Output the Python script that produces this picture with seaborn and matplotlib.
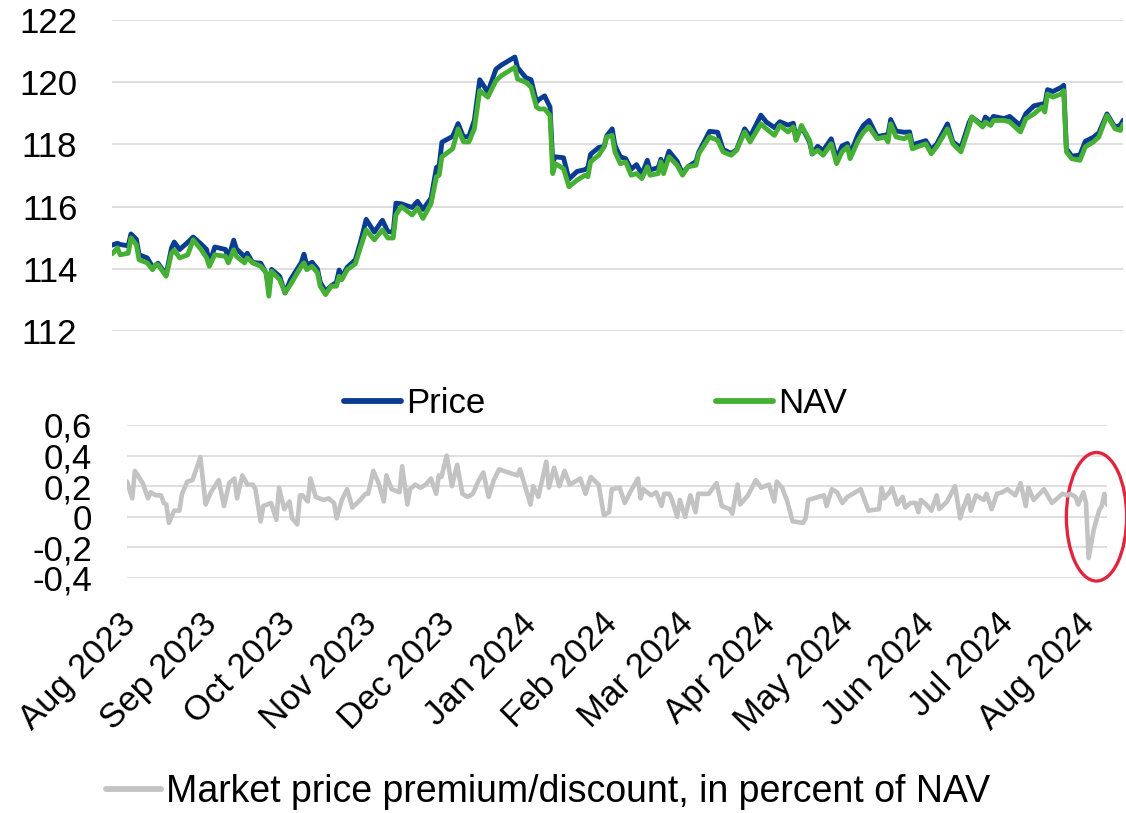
import matplotlib
matplotlib.use("Agg")
import matplotlib.pyplot as plt
import matplotlib.dates as mdates
import matplotlib.transforms as mtransforms
from matplotlib.patches import Ellipse
from matplotlib.lines import Line2D
import pandas as pd
import seaborn as sns

# Price / NAV (top panel)
nav_dates = [
    "2023-07-31", "2023-08-02", "2023-08-03", "2023-08-06", "2023-08-07", "2023-08-09", "2023-08-10",
    "2023-08-13", "2023-08-15", "2023-08-16", "2023-08-17", "2023-08-20", "2023-08-22", "2023-08-23",
    "2023-08-25", "2023-08-28", "2023-08-30", "2023-09-02", "2023-09-04", "2023-09-05", "2023-09-07",
    "2023-09-11", "2023-09-12", "2023-09-14", "2023-09-15", "2023-09-18", "2023-09-19", "2023-09-21",
    "2023-09-24", "2023-09-26", "2023-09-27", "2023-09-28", "2023-10-01", "2023-10-03", "2023-10-05",
    "2023-10-09", "2023-10-10", "2023-10-11", "2023-10-13", "2023-10-15", "2023-10-16", "2023-10-18",
    "2023-10-20", "2023-10-22", "2023-10-23", "2023-10-24", "2023-10-26", "2023-10-29", "2023-10-31",
    "2023-11-02", "2023-11-05", "2023-11-08", "2023-11-10", "2023-11-12", "2023-11-13", "2023-11-15",
    "2023-11-19", "2023-11-21", "2023-11-23", "2023-11-26", "2023-11-28", "2023-11-29", "2023-11-30",
    "2023-12-04", "2023-12-06", "2023-12-08", "2023-12-10", "2023-12-12", "2023-12-14", "2023-12-17",
    "2023-12-20", "2023-12-22", "2023-12-27", "2023-12-28", "2023-12-31", "2024-01-02", "2024-01-04",
    "2024-01-05", "2024-01-07", "2024-01-09", "2024-01-10", "2024-01-11", "2024-01-14", "2024-01-16",
    "2024-01-19", "2024-01-22", "2024-01-23", "2024-01-24", "2024-01-27", "2024-01-29", "2024-01-30",
    "2024-02-01", "2024-02-02", "2024-02-04", "2024-02-06", "2024-02-08", "2024-02-10", "2024-02-12",
    "2024-02-14", "2024-02-15", "2024-02-18", "2024-02-19", "2024-02-20", "2024-02-22", "2024-02-25",
    "2024-02-27", "2024-02-29", "2024-03-03", "2024-03-04", "2024-03-08", "2024-03-11", "2024-03-13",
    "2024-03-16", "2024-03-18", "2024-03-21", "2024-03-23", "2024-03-27", "2024-03-29", "2024-04-01",
    "2024-04-03", "2024-04-06", "2024-04-08", "2024-04-09", "2024-04-11", "2024-04-14", "2024-04-15",
    "2024-04-17", "2024-04-19", "2024-04-22", "2024-04-24", "2024-04-26", "2024-04-28", "2024-04-29",
    "2024-05-02", "2024-05-04", "2024-05-06", "2024-05-09", "2024-05-12", "2024-05-13", "2024-05-14",
    "2024-05-16", "2024-05-19", "2024-05-21", "2024-05-22", "2024-05-27", "2024-05-29", "2024-05-31",
    "2024-06-04", "2024-06-06", "2024-06-09", "2024-06-12", "2024-06-13", "2024-06-17", "2024-06-18",
    "2024-06-20", "2024-06-21", "2024-06-25", "2024-06-27", "2024-06-29", "2024-07-01", "2024-07-03",
    "2024-07-06", "2024-07-09", "2024-07-10", "2024-07-11", "2024-07-13", "2024-07-16", "2024-07-17",
    "2024-07-18", "2024-07-20", "2024-07-23", "2024-07-25", "2024-07-28", "2024-07-30", "2024-08-02",
    "2024-08-05", "2024-08-07", "2024-08-08",
]
nav = [
    114.48, 114.67, 114.45, 114.50, 114.99, 114.77, 114.29,
    114.19, 113.97, 114.13, 114.13, 113.76, 114.50, 114.60,
    114.35, 114.45, 114.93, 114.61, 114.35, 114.08, 114.45,
    114.40, 114.19, 114.61, 114.40, 114.19, 114.35, 114.19,
    114.08, 113.87, 113.12, 113.92, 113.65, 113.23, 113.49,
    114.08, 114.19, 113.97, 114.08, 113.87, 113.44, 113.17,
    113.44, 113.44, 113.76, 113.65, 113.97, 114.16, 114.72,
    115.25, 114.93, 115.25, 114.99, 114.99, 115.73, 116.00,
    115.73, 115.95, 115.62, 116.10, 116.96, 117.01, 117.60,
    117.86, 118.50, 118.08, 118.08, 118.50, 119.73, 119.52,
    120.05, 120.21, 120.48, 120.10, 120.00, 119.84, 119.20,
    119.14, 119.14, 118.93, 117.06, 117.38, 117.22, 116.64,
    116.85, 117.01, 116.96, 117.44, 117.65, 117.92, 118.24,
    118.29, 117.76, 117.38, 117.43, 117.01, 117.06, 116.90,
    117.28, 117.01, 117.06, 117.44, 117.06, 117.60, 117.33,
    117.01, 117.28, 117.33, 117.70, 118.24, 118.13, 117.76,
    117.65, 117.81, 118.40, 118.08, 118.66, 118.50, 118.29,
    118.61, 118.40, 118.56, 118.13, 118.61, 118.13, 117.70,
    117.81, 117.65, 118.02, 117.38, 117.76, 117.92, 117.54,
    118.13, 118.40, 118.56, 118.18, 118.24, 118.08, 118.66,
    118.24, 118.18, 118.29, 117.86, 118.02, 117.70, 117.92,
    118.50, 118.02, 117.76, 118.56, 118.88, 118.56, 118.72,
    118.61, 118.77, 118.77, 118.72, 118.56, 118.40, 118.82,
    118.98, 119.20, 119.04, 119.62, 119.52, 119.62, 119.73,
    117.76, 117.54, 117.49, 117.92, 118.08, 118.24, 118.93,
    118.50, 118.45, 118.65,
]
price = [
    114.76, 114.82, 114.78, 114.74, 115.12, 114.95, 114.45,
    114.35, 114.06, 114.09, 114.18, 113.81, 114.67, 114.86,
    114.62, 114.85, 115.02, 114.79, 114.62, 114.17, 114.70,
    114.62, 114.33, 114.92, 114.64, 114.39, 114.50, 114.20,
    114.18, 113.86, 113.33, 113.98, 113.76, 113.22, 113.65,
    114.20, 114.47, 114.12, 114.21, 113.99, 113.57, 113.27,
    113.45, 113.56, 113.96, 113.73, 114.05, 114.29, 114.89,
    115.59, 115.18, 115.56, 115.20, 115.17, 116.11, 116.09,
    115.97, 116.17, 115.91, 116.27, 117.26, 117.31, 118.07,
    118.26, 118.67, 118.23, 118.26, 118.77, 120.08, 119.68,
    120.42, 120.55, 120.81, 120.47, 120.15, 120.08, 119.36,
    119.45, 119.56, 119.20, 117.44, 117.60, 117.57, 116.88,
    117.13, 117.19, 117.26, 117.68, 117.90, 117.93, 118.28,
    118.50, 117.97, 117.60, 117.54, 117.20, 117.35, 117.04,
    117.49, 117.18, 117.25, 117.52, 117.24, 117.78, 117.46,
    117.06, 117.28, 117.45, 117.75, 118.42, 118.39, 117.84,
    117.71, 117.83, 118.50, 118.25, 118.94, 118.72, 118.54,
    118.73, 118.62, 118.68, 118.18, 118.57, 118.08, 117.69,
    117.94, 117.80, 118.18, 117.55, 117.95, 118.03, 117.69,
    118.33, 118.62, 118.77, 118.25, 118.30, 118.30, 118.80,
    118.43, 118.39, 118.40, 117.99, 118.12, 117.83, 118.01,
    118.66, 118.08, 117.89, 118.70, 118.88, 118.61, 118.88,
    118.74, 118.90, 118.83, 118.90, 118.75, 118.61, 118.99,
    119.24, 119.30, 119.26, 119.76, 119.70, 119.83, 119.90,
    117.86, 117.62, 117.66, 118.10, 118.23, 118.37, 118.98,
    118.55, 118.62, 118.78,
]

# Market price premium/discount in percent of NAV (bottom panel)
prem_dates = [
    "2023-07-31", "2023-08-02", "2023-08-03", "2023-08-06", "2023-08-08", "2023-08-09", "2023-08-11",
    "2023-08-13", "2023-08-14", "2023-08-15", "2023-08-16", "2023-08-18", "2023-08-20", "2023-08-21",
    "2023-08-23", "2023-08-25", "2023-08-28", "2023-08-30", "2023-09-01", "2023-09-04", "2023-09-06",
    "2023-09-08", "2023-09-10", "2023-09-11", "2023-09-13", "2023-09-15", "2023-09-17", "2023-09-18",
    "2023-09-20", "2023-09-21", "2023-09-24", "2023-09-26", "2023-09-27", "2023-09-29", "2023-10-01",
    "2023-10-02", "2023-10-04", "2023-10-05", "2023-10-06", "2023-10-08", "2023-10-09", "2023-10-11",
    "2023-10-14", "2023-10-16", "2023-10-18", "2023-10-19", "2023-10-21", "2023-10-23", "2023-10-25",
    "2023-10-28", "2023-10-30", "2023-10-31", "2023-11-02", "2023-11-04", "2023-11-06", "2023-11-07",
    "2023-11-09", "2023-11-12", "2023-11-13", "2023-11-15", "2023-11-16", "2023-11-18", "2023-11-20",
    "2023-11-22", "2023-11-24", "2023-11-26", "2023-11-27", "2023-11-28", "2023-11-30", "2023-12-02",
    "2023-12-04", "2023-12-06", "2023-12-08", "2023-12-10", "2023-12-12", "2023-12-14", "2023-12-16",
    "2023-12-18", "2023-12-20", "2023-12-27", "2023-12-28", "2024-01-01", "2024-01-02", "2024-01-04",
    "2024-01-07", "2024-01-08", "2024-01-10", "2024-01-12", "2024-01-14", "2024-01-16", "2024-01-20",
    "2024-01-22", "2024-01-24", "2024-01-27", "2024-01-29", "2024-01-31", "2024-02-01", "2024-02-04",
    "2024-02-06", "2024-02-08", "2024-02-11", "2024-02-12", "2024-02-13", "2024-02-16", "2024-02-18",
    "2024-02-20", "2024-02-21", "2024-02-23", "2024-02-24", "2024-02-26", "2024-02-27", "2024-02-29",
    "2024-03-02", "2024-03-04", "2024-03-05", "2024-03-09", "2024-03-12", "2024-03-14", "2024-03-17",
    "2024-03-18", "2024-03-20", "2024-03-21", "2024-03-24", "2024-03-27", "2024-03-29", "2024-04-01",
    "2024-04-03", "2024-04-04", "2024-04-06", "2024-04-08", "2024-04-10", "2024-04-14", "2024-04-15",
    "2024-04-16", "2024-04-20", "2024-04-22", "2024-04-23", "2024-04-25", "2024-04-27", "2024-04-29",
    "2024-05-01", "2024-05-06", "2024-05-09", "2024-05-13", "2024-05-14", "2024-05-15", "2024-05-17",
    "2024-05-18", "2024-05-20", "2024-05-22", "2024-05-23", "2024-05-25", "2024-05-27", "2024-05-28",
    "2024-05-29", "2024-05-31", "2024-06-02", "2024-06-04", "2024-06-05", "2024-06-08", "2024-06-11",
    "2024-06-13", "2024-06-14", "2024-06-16", "2024-06-17", "2024-06-19", "2024-06-22", "2024-06-23",
    "2024-06-25", "2024-06-27", "2024-06-29", "2024-07-01", "2024-07-04", "2024-07-06", "2024-07-08",
    "2024-07-09", "2024-07-11", "2024-07-15", "2024-07-18", "2024-07-22", "2024-07-24", "2024-07-25",
    "2024-07-27", "2024-07-28", "2024-07-30", "2024-07-31", "2024-08-01", "2024-08-03", "2024-08-05",
    "2024-08-06", "2024-08-07", "2024-08-08",
]
premium = [
    0.23, 0.12, 0.30, 0.22, 0.12, 0.16, 0.14,
    0.14, 0.09, 0.08, -0.04, 0.04, 0.04, 0.15,
    0.23, 0.24, 0.39, 0.08, 0.16, 0.24, 0.07,
    0.22, 0.25, 0.12, 0.27, 0.21, 0.21, 0.18,
    -0.03, 0.07, 0.09, -0.02, 0.19, 0.05, 0.10,
    -0.01, -0.05, 0.14, 0.14, 0.10, 0.25, 0.13,
    0.11, 0.12, 0.09, -0.01, 0.11, 0.18, 0.06,
    0.11, 0.15, 0.15, 0.30, 0.22, 0.10, 0.27,
    0.18, 0.16, 0.33, 0.08, 0.18, 0.21, 0.19,
    0.21, 0.25, 0.15, 0.27, 0.26, 0.40, 0.20,
    0.34, 0.15, 0.13, 0.15, 0.23, 0.29, 0.13,
    0.24, 0.31, 0.27, 0.31, 0.08, 0.20, 0.13,
    0.36, 0.19, 0.32, 0.20, 0.30, 0.21, 0.25,
    0.15, 0.26, 0.21, 0.01, 0.03, 0.18, 0.19,
    0.09, 0.16, 0.25, 0.12, 0.18, 0.14, 0.16,
    0.07, 0.15, 0.15, 0.11, 0.00, 0.11, 0.00,
    0.14, 0.03, 0.15, 0.15, 0.22, 0.07, 0.05,
    0.02, 0.21, 0.08, 0.14, 0.24, 0.19, 0.21,
    0.10, 0.23, 0.19, 0.10, -0.03, -0.04, -0.01,
    0.11, 0.13, 0.14, 0.07, 0.18, 0.16, 0.09,
    0.13, 0.18, 0.04, 0.05, 0.19, 0.12, 0.16,
    0.19, 0.08, 0.13, 0.06, 0.09, 0.09, 0.03,
    0.11, 0.08, 0.04, 0.14, 0.05, 0.10, 0.20,
    -0.01, 0.05, 0.14, 0.04, 0.14, 0.11, 0.15,
    0.05, 0.15, 0.16, 0.18, 0.14, 0.22, 0.07,
    0.19, 0.11, 0.18, 0.09, 0.15, 0.14, 0.15,
    0.13, 0.08, 0.16, 0.09, -0.27, -0.08, 0.04,
    0.07, 0.15, 0.08,
]

price_ticks = [112, 114, 116, 118, 120, 122]
prem_ticks = [-0.4, -0.2, 0, 0.2, 0.4, 0.6]
prem_tick_labels = ["-0,4", "-0,2", "0", "0,2", "0,4", "0,6"]
month_ticks = pd.date_range("2023-08-01", "2024-08-01", freq="MS")

BLUE = "#0A3D91"
GREEN = "#46B034"
GREY = "#C3C3C3"
GRID = "#D9D9D9"
RED = "#E0253F"
FS = 25

sns.set_style("white")
plt.rcParams["font.family"] = ["Liberation Sans", "DejaVu Sans"]
plt.rcParams.update({"text.color": "black", "xtick.color": "black",
                     "ytick.color": "black", "axes.labelcolor": "black"})

top = pd.DataFrame({"date": pd.to_datetime(nav_dates), "Price": price, "NAV": nav})
bot = pd.DataFrame({"date": pd.to_datetime(prem_dates), "premium": premium})

fig = plt.figure(figsize=(11.26, 8.13), dpi=100)
ax1 = fig.add_axes([0.0995, 0.5929, 0.898, 0.3825])
ax2 = fig.add_axes([0.1128, 0.2891, 0.8703, 0.1882])

sns.lineplot(data=top, x="date", y="Price", ax=ax1, color=BLUE, lw=3.5)
sns.lineplot(data=top, x="date", y="NAV", ax=ax1, color=GREEN, lw=3.5)
sns.lineplot(data=bot, x="date", y="premium", ax=ax2, color=GREY, lw=3.3)

for ax in (ax1, ax2):
    sns.despine(ax=ax, left=True, bottom=True)
    ax.grid(axis="y", color=GRID, lw=1.2)
    ax.set_axisbelow(True)
    ax.set_xlabel("")
    ax.set_ylabel("")
    ax.tick_params(length=0, labelsize=FS, colors="black")
    ax.tick_params(axis="y", pad=25)

ax1.set_xlim(top["date"].min(), top["date"].max())
ax1.set_ylim(112, 122)
ax1.set_yticks(price_ticks)
ax1.set_xticks([])

ax2.set_xlim(bot["date"].min(), bot["date"].max())
ax2.set_ylim(-0.4, 0.6)
ax2.set_yticks(prem_ticks)
ax2.set_yticklabels(prem_tick_labels)
ax2.set_xticks(month_ticks)
ax2.set_xticklabels([d.strftime("%b %Y") for d in month_ticks], rotation=45,
                    ha="right", va="top", rotation_mode="anchor")
ax2.tick_params(axis="x", pad=21)
shift = mtransforms.ScaledTranslation(-11 / 100, 0, fig.dpi_scale_trans)
for lab in ax2.get_xticklabels():
    lab.set_transform(lab.get_transform() + shift)

# red ellipse around the August 2024 dip
dip = bot.loc[bot["premium"].idxmin(), "date"]
cx = mdates.date2num(dip + pd.Timedelta(days=3))
ax2.add_patch(Ellipse((cx, 0.0), 23, 0.84, fill=False, edgecolor=RED, lw=2.4, clip_on=False))

h1 = [Line2D([], [], color=BLUE, lw=4.2), Line2D([], [], color=GREEN, lw=4.2)]
fig.legend(h1, ["Price", "NAV"], loc="center", bbox_to_anchor=(0.529, 0.504), ncol=2,
           frameon=False, fontsize=FS, handlelength=1.64, handletextpad=0.15, columnspacing=6.65)
h2 = [Line2D([], [], color=GREY, lw=4.2)]
fig.legend(h2, ["Market price premium/discount, in percent of NAV"], loc="center",
           bbox_to_anchor=(0.487, 0.026), frameon=False, fontsize=27,
           handlelength=1.47, handletextpad=0.13)

fig.savefig("out.png", dpi=100, facecolor="white")
